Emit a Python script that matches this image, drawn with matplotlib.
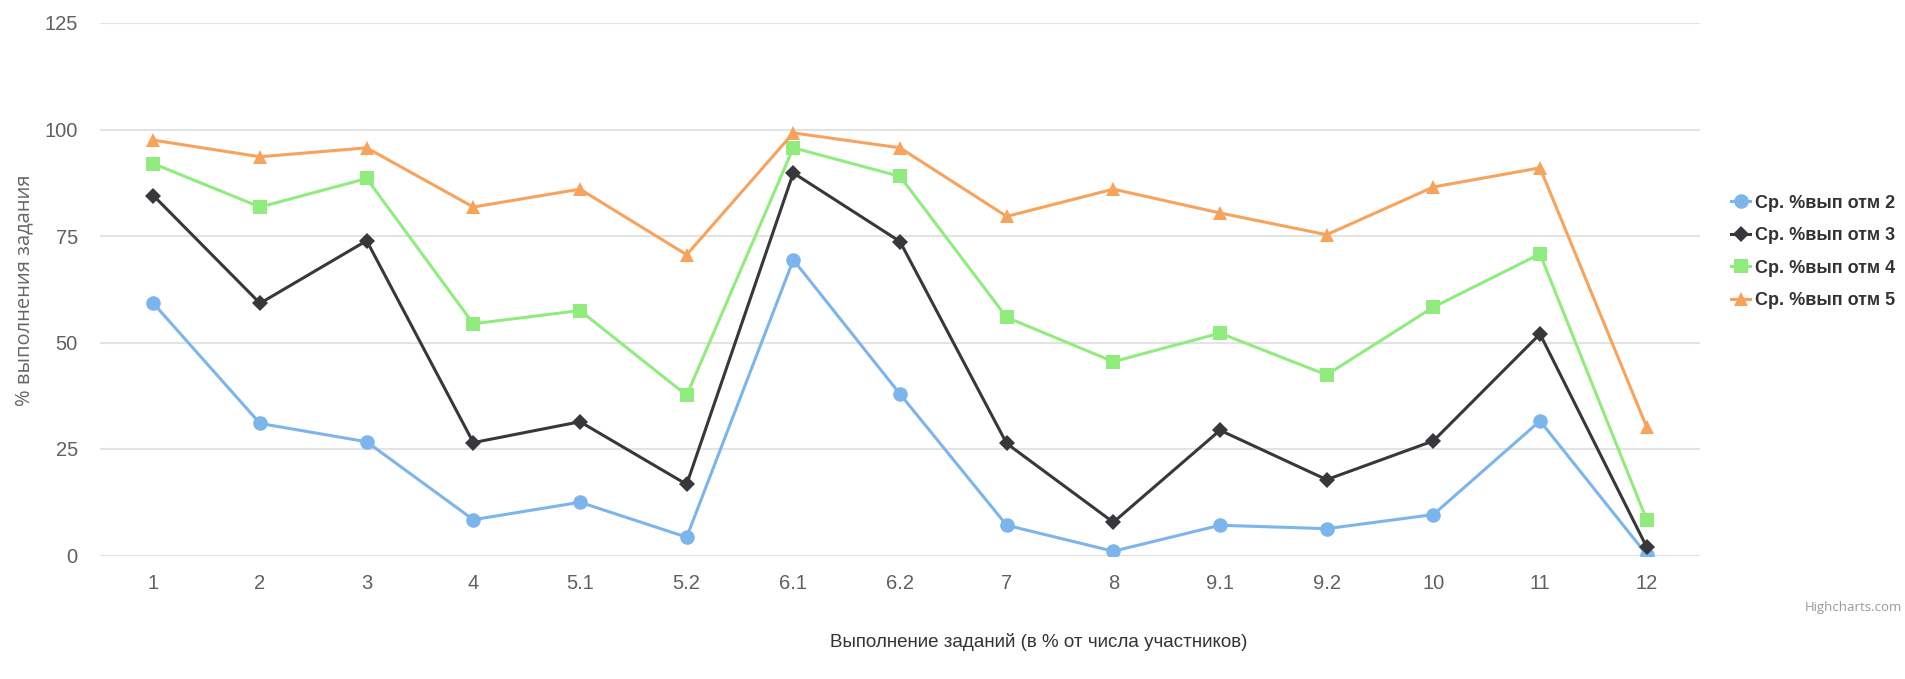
import matplotlib
matplotlib.use("Agg")
import matplotlib.pyplot as plt
from matplotlib import font_manager as fm

categories = ["1", "2", "3", "4", "5.1", "5.2", "6.1", "6.2", "7", "8", "9.1", "9.2", "10", "11", "12"]
otm2 = [59.2, 31.0, 26.7, 8.4, 12.5, 4.3, 69.4, 37.9, 7.1, 1.0, 7.1, 6.3, 9.6, 31.6, 0.2]
otm3 = [84.5, 59.2, 73.9, 26.5, 31.4, 16.7, 89.8, 73.7, 26.3, 7.8, 29.4, 17.8, 26.9, 52.0, 2.0]
otm4 = [92.0, 81.8, 88.5, 54.4, 57.5, 37.6, 95.7, 89.0, 55.9, 45.5, 52.2, 42.4, 58.3, 70.8, 8.4]
otm5 = [97.5, 93.6, 95.7, 81.8, 86.0, 70.6, 99.2, 95.7, 79.6, 86.0, 80.4, 75.3, 86.5, 91.0, 30.2]
series_names = ["Ср. %вып отм 2", "Ср. %вып отм 3", "Ср. %вып отм 4", "Ср. %вып отм 5"]
y_ticks = [0, 25, 50, 75, 100, 125]

names = {f.name for f in fm.fontManager.ttflist}
narrow = "Liberation Sans Narrow" if "Liberation Sans Narrow" in names else "Liberation Sans"

fig = plt.figure(figsize=(19.06, 6.79), dpi=100)
ax = fig.add_axes([100/1906, 1-555.5/679, 1600/1906, (555.5-23)/679])

styles = [
    dict(color="#7cb5ec", marker="o", ms=10.5),
    dict(color="#38383c", marker="D", ms=8),
    dict(color="#90ed7d", marker="s", ms=10),
    dict(color="#f7a35c", marker="^", ms=10.5),
]
x = list(range(len(categories)))
for vals, name, st in zip([otm2, otm3, otm4, otm5], series_names, styles):
    ax.plot(x, vals, color=st["color"], marker=st["marker"], markersize=st["ms"],
            linewidth=2.2, label=name, markeredgewidth=0, zorder=3)

ax.set_xlim(-0.5, len(categories) - 0.5)
ax.set_ylim(0, 125)
ax.set_yticks(y_ticks)
ax.set_xticks(x)
ax.set_xticklabels(categories)
ax.grid(axis="y", color="#e3e3e3", linewidth=1.5)
ax.set_axisbelow(True)
for s in ax.spines.values():
    s.set_visible(False)
ax.tick_params(axis="both", length=0, labelsize=14.5, labelcolor="#606060")
ax.tick_params(axis="y", pad=16)
ax.tick_params(axis="x", pad=13)
for lbl in ax.get_xticklabels() + ax.get_yticklabels():
    lbl.set_family(narrow)

fig.text(24/1906, 1-290/679, "% выполнения задания", rotation=90, ha="center", va="center",
         fontsize=14.5, color="#666666", family="Open Sans")
fig.text(1039/1906, 1-642/679, "Выполнение заданий (в % от числа участников)", ha="center", va="center",
         fontsize=13.5, color="#333333", family=narrow)
fig.text(1902/1906, 1-607/679, "Highcharts.com", ha="right", va="center",
         fontsize=9.5, color="#999999", family="Open Sans")

leg = fig.legend(loc="center left", bbox_to_anchor=(1722/1906, 1-252/679), frameon=False,
                 prop={"family": narrow, "size": 13, "weight": "bold"},
                 handlelength=1.05, handletextpad=0.3, labelspacing=0.86, borderpad=0)
for t in leg.get_texts():
    t.set_color("#333333")

fig.savefig("out.png", dpi=100)
